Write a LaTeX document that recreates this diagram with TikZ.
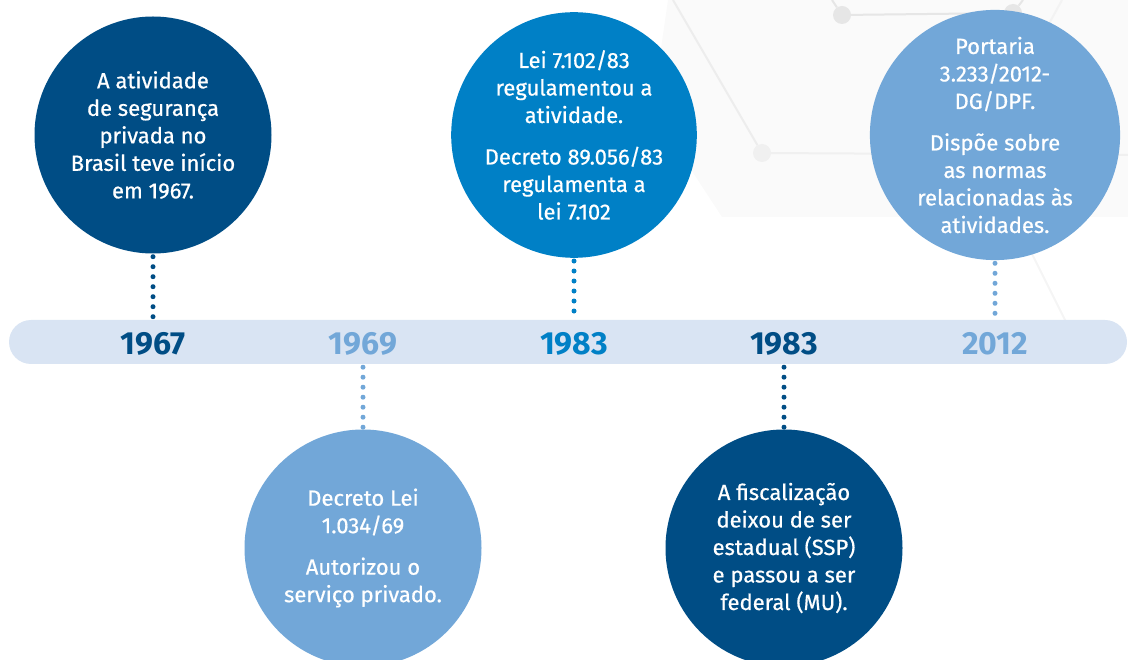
\documentclass[tikz,border=0pt]{standalone}
\usepackage{fontspec}
\setmainfont{Fira Sans}
\newfontfamily\circlefont{Fira Sans}[FakeBold=0.6]
\usetikzlibrary{positioning}
\definecolor{navyblue}{HTML}{004D85}
\definecolor{midblue}{HTML}{0080C6}
\definecolor{skyblue}{HTML}{72A7D8}
\definecolor{barblue}{HTML}{D9E4F3}
\definecolor{hexgray}{HTML}{E6E6E6}
\definecolor{hexfill}{HTML}{FAFAFA}

\begin{document}
\begin{tikzpicture}[
    x=1pt, y=-1pt,
    every node/.style={font=\circlefont\fontsize{22}{27.5}\selectfont},
    event/.style={circle, minimum size=237pt, inner sep=0pt, align=center, text=white},
    yearlabel/.style={font=\normalfont\fontsize{32}{32}\selectfont\bfseries},
    dots/.style={line width=5pt, line cap=round, dash pattern=on 0pt off 10pt, shorten <=3pt, shorten >=2pt},
    hexline/.style={draw=hexgray, line width=2pt},
    hexdot/.style={circle, fill=hexgray, minimum size=18pt, inner sep=0pt}
]
\useasboundingbox (0,0) rectangle (1128,660);
\clip (0,0) rectangle (1128,660);

% background hexagons
\fill[hexfill] (668,0) -- (1128,0) -- (1128,217) -- (722,217) -- (652,110) -- cycle;
\node[hexdot] (h1) at (842,15) {};
\node[hexdot] (h2) at (1013,13) {};
\node[hexdot, fill=hexgray!60] (h3) at (762,153) {};
\coordinate (h4) at (673,0);
\coordinate (h5) at (1128,155);
\coordinate (h6) at (832,0);
\coordinate (h7) at (1023,0);
\coordinate (h8) at (1062,0);
\coordinate (h9) at (1070,330);
\draw[hexline] (h1) -- (h2);
\draw[hexline] (h6) -- (h1);
\draw[hexline] (h7) -- (h2);
\draw[hexline, hexgray!70] (h4) -- (h3);
\draw[hexline, hexgray!60] (h3) -- (h5);
\draw[hexline, hexgray!50] (h8) -- (1010,95);
\draw[hexline, hexgray!40] (1020,230) -- (h9);

% timeline bar
\node[rectangle, rounded corners=22pt, fill=barblue, minimum width=1118pt, minimum height=44pt, inner sep=0pt] (bar) at (568,342) {};

\node[yearlabel, text=navyblue] (y1967) at (153,344) {1967};
\node[yearlabel, text=skyblue] (y1969) at (363,344) {1969};
\node[yearlabel, text=midblue] (y1983a) at (574,344) {1983};
\node[yearlabel, text=navyblue] (y1983b) at (784,344) {1983};
\node[yearlabel, text=skyblue] (y2012) at (995,344) {2012};

% events
\node[event, fill=navyblue] (e1967) at (153,135) {A atividade\\ de segurança\\ privada no\\ Brasil teve início\\ em 1967.};
\node[event, fill=skyblue] (e1969) at (363,548) {Decreto Lei\\ 1.034/69\\[14pt] Autorizou o\\ serviço privado.};
\node[event, fill=midblue] (e1983a) at (574,135) {Lei 7.102/83\\ regulamentou a\\ atividade.\\[14pt] Decreto 89.056/83\\ regulamenta a\\ lei 7.102};
\node[event, fill=navyblue] (e1983b) at (784,548) {A fiscalização\\ deixou de ser\\ estadual (SSP)\\ e passou a ser\\ federal (MU).};
\node[event, fill=skyblue] (e2012) at (995,135) {Portaria\\ 3.233/2012-\\ DG/DPF.\\[14pt] Dispõe sobre\\ as normas\\ relacionadas às\\ atividades.};

\draw[dots, navyblue] (e1967.south) -- (e1967.south |- bar.north);
\draw[dots, skyblue] (e1969.north |- bar.south) -- (e1969.north);
\draw[dots, midblue] (e1983a.south) -- (e1983a.south |- bar.north);
\draw[dots, navyblue] (e1983b.north |- bar.south) -- (e1983b.north);
\draw[dots, skyblue] (e2012.south) -- (e2012.south |- bar.north);

\end{tikzpicture}
\end{document}
